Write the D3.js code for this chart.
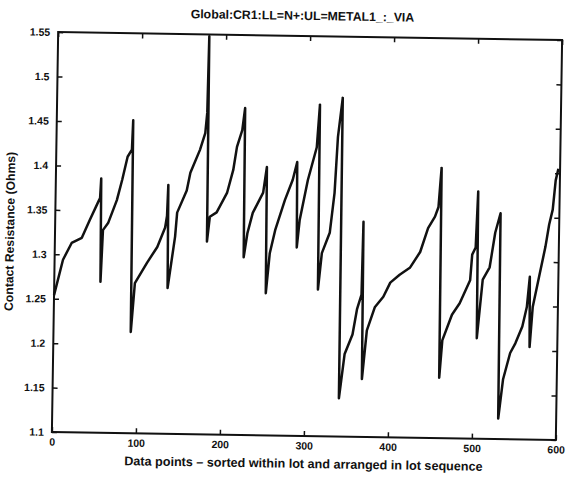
<!DOCTYPE html>
<html>
<head>
<meta charset="utf-8">
<script src="https://cdn.jsdelivr.net/npm/d3@7"></script>
<style>
  html, body { margin: 0; padding: 0; background: #fff; }
  svg { display: block; }
  text { font-family: "Liberation Sans", Arial, sans-serif; fill: #111; }
</style>
</head>
<body>
<svg id="chart" width="568" height="478"></svg>
<script>
// Contact resistance per data point, sorted within each lot, lots in sequence.
const pointIndex = [
  0, 10, 20, 32, 41, 51, 53, 54,
  55, 57, 63, 73, 79, 85, 90, 91,
  92, 96, 110, 122, 131, 133, 134,
  135, 143, 145, 156, 160, 171, 177, 179, 180,
  181, 184, 192, 204, 211, 215, 221, 224,
  225, 229, 235, 247, 251,
  252, 256, 262, 273, 282, 287,
  288, 291, 300, 303, 310, 313,
  314, 318, 327, 332, 335, 340,
  341, 347, 356, 361, 366, 367,
  368, 373, 382, 392, 400, 411, 423, 435, 444, 452, 456, 458, 459,
  460, 463, 474, 483, 495, 497, 501, 503,
  504, 510, 518, 524, 530,
  531, 536, 544, 550, 558, 563, 566,
  567, 570, 578, 584, 588, 592, 595, 598
];
const resistance = [
  1.254, 1.294, 1.313, 1.319, 1.339, 1.360, 1.364, 1.386,
  1.270, 1.328, 1.336, 1.362, 1.385, 1.411, 1.419, 1.452,
  1.214, 1.269, 1.292, 1.310, 1.332, 1.345, 1.380,
  1.264, 1.322, 1.349, 1.374, 1.394, 1.420, 1.439, 1.462, 1.548,
  1.317, 1.345, 1.350, 1.372, 1.398, 1.424, 1.443, 1.468,
  1.300, 1.327, 1.350, 1.373, 1.402,
  1.260, 1.305, 1.331, 1.365, 1.388, 1.408,
  1.312, 1.343, 1.388, 1.399, 1.425, 1.473,
  1.265, 1.306, 1.329, 1.374, 1.437, 1.481,
  1.143, 1.193, 1.215, 1.244, 1.260, 1.342,
  1.165, 1.220, 1.246, 1.258, 1.274, 1.283, 1.291, 1.309, 1.336, 1.349, 1.360, 1.390, 1.404,
  1.168, 1.210, 1.239, 1.252, 1.278, 1.307, 1.315, 1.378,
  1.213, 1.279, 1.293, 1.332, 1.354,
  1.123, 1.167, 1.197, 1.208, 1.227, 1.249, 1.283,
  1.204, 1.249, 1.288, 1.317, 1.342, 1.359, 1.392, 1.405
];
const xTickValues = [0, 100, 200, 300, 400, 500, 600];
const yTickValues = [1.1, 1.15, 1.2, 1.25, 1.3, 1.35, 1.4, 1.45, 1.5, 1.55];
const titleText = "Global:CR1:LL=N+:UL=METAL1_:_VIA";
const xLabelText = "Data points \u2013 sorted within lot and arranged in lot sequence";
const yLabelText = "Contact Resistance (Ohms)";

const svg = d3.select("#chart");
const plotLeft = 55, plotRight = 559, plotTop = 36, plotBottom = 436;
const cx = (plotLeft + plotRight) / 2, cy = (plotTop + plotBottom) / 2;

// whole figure sits slightly tilted
const g = svg.append("g").attr("transform", `rotate(0.9, ${cx}, ${cy})`);

const x = d3.scaleLinear().domain([0, 600]).range([plotLeft, plotRight]);
const y = d3.scaleLinear().domain([1.1, 1.55]).range([plotBottom, plotTop]);

const fmt = v => String(+v.toFixed(2));
const tickLen = 5;
const labelFont = "Liberation Sans, Arial, sans-serif";

// data line
const pts = pointIndex.map((d, i) => [d, resistance[i]]);
g.append("path")
  .datum(pts)
  .attr("fill", "none")
  .attr("stroke", "#111")
  .attr("stroke-width", 2.5)
  .attr("stroke-linejoin", "round")
  .attr("d", d3.line().x(d => x(d[0])).y(d => y(d[1])));

// axes with inward ticks on all four sides
const axisStyle = sel => {
  sel.select(".domain").remove();
  sel.selectAll(".tick line").attr("stroke", "#111").attr("stroke-width", 1.5);
};
const labelStyle = sel => sel.selectAll("text")
  .attr("font-size", 10.5).attr("font-weight", "bold")
  .attr("fill", "#111").attr("font-family", labelFont);

g.append("g").attr("transform", `translate(0,${plotBottom})`)
  .call(d3.axisBottom(x).tickValues(xTickValues).tickSizeInner(-tickLen).tickSizeOuter(0).tickPadding(6).tickFormat(fmt))
  .call(axisStyle).call(labelStyle);
g.append("g").attr("transform", `translate(0,${plotTop})`)
  .call(d3.axisTop(x).tickValues(xTickValues).tickSizeInner(-tickLen).tickSizeOuter(0).tickFormat(""))
  .call(axisStyle);
g.append("g").attr("transform", `translate(${plotLeft},0)`)
  .call(d3.axisLeft(y).tickValues(yTickValues).tickSizeInner(-tickLen).tickSizeOuter(0).tickPadding(8).tickFormat(fmt))
  .call(axisStyle).call(labelStyle);
g.append("g").attr("transform", `translate(${plotRight},0)`)
  .call(d3.axisRight(y).tickValues(yTickValues).tickSizeInner(-tickLen).tickSizeOuter(0).tickFormat(""))
  .call(axisStyle);

// plot frame
g.append("rect")
  .attr("x", plotLeft).attr("y", plotTop)
  .attr("width", plotRight - plotLeft).attr("height", plotBottom - plotTop)
  .attr("fill", "none").attr("stroke", "#111").attr("stroke-width", 2);

// titles
g.append("text")
  .attr("x", cx - 8).attr("y", plotTop - 16)
  .attr("text-anchor", "middle")
  .attr("font-size", 12.3).attr("font-weight", "bold")
  .text(titleText);
g.append("text")
  .attr("x", cx).attr("y", plotBottom + 32)
  .attr("text-anchor", "middle")
  .attr("font-size", 12.6)
  .attr("font-weight", "bold")
  .text(xLabelText);
g.append("text")
  .attr("transform", `translate(${plotLeft - 41},${cy}) rotate(-90)`)
  .attr("text-anchor", "middle")
  .attr("font-size", 12.2).attr("font-weight", "bold")
  .text(yLabelText);
</script>
</body>
</html>
